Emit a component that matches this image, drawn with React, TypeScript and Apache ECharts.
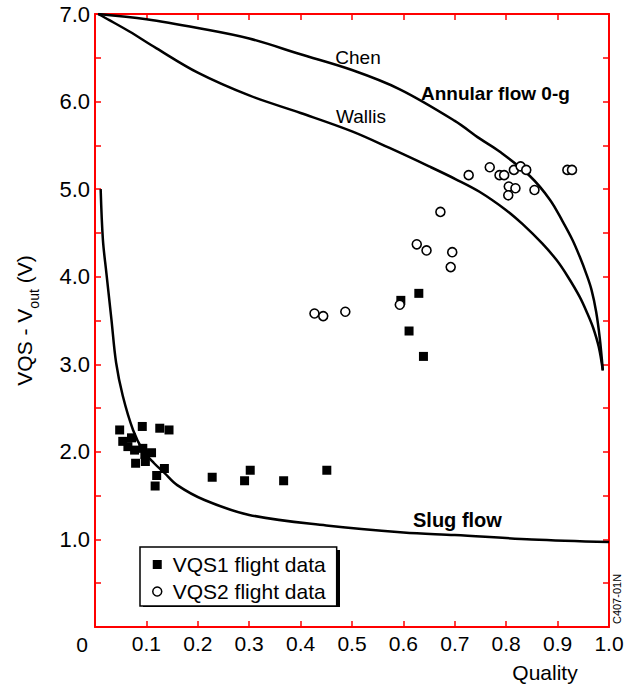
import React, { useEffect, useRef } from "react";
import * as echarts from "echarts";

// ---- Data ----
const xTickValues = [0, 0.1, 0.2, 0.3, 0.4, 0.5, 0.6, 0.7, 0.8, 0.9, 1.0];
const yTickLabels = ["1.0", "2.0", "3.0", "4.0", "5.0", "6.0", "7.0"];

const chenCurve: [number, number][] = [
  [0.006, 7.0], [0.1, 6.94], [0.2, 6.84], [0.3, 6.72], [0.4, 6.54], [0.5, 6.36],
  [0.593, 6.14], [0.7, 5.78], [0.748, 5.58], [0.787, 5.43], [0.846, 5.15],
  [0.885, 4.88], [0.91, 4.63], [0.929, 4.42], [0.943, 4.23], [0.956, 4.03],
  [0.966, 3.85], [0.975, 3.6], [0.982, 3.3], [0.988, 2.93],
];

const wallisCurve: [number, number][] = [
  [0.006, 7.0], [0.028, 6.93], [0.067, 6.8], [0.119, 6.61], [0.2, 6.33],
  [0.3, 6.07], [0.4, 5.87], [0.5, 5.66], [0.573, 5.47], [0.65, 5.26],
  [0.703, 5.11], [0.748, 4.97], [0.8, 4.76], [0.832, 4.6], [0.87, 4.38],
  [0.898, 4.19], [0.92, 4.0], [0.943, 3.77], [0.958, 3.58], [0.969, 3.42],
  [0.98, 3.2], [0.988, 2.93],
];

const slugCurve: [number, number][] = [
  [0.011, 5.0], [0.0154, 4.42], [0.022, 4.05], [0.032, 3.51], [0.041, 3.02],
  [0.054, 2.64], [0.074, 2.25], [0.093, 2.02], [0.115, 1.87], [0.135, 1.76],
  [0.16, 1.62], [0.213, 1.45], [0.3, 1.28], [0.45, 1.16], [0.6, 1.08],
  [0.7, 1.05], [0.85, 1.0], [1.0, 0.97],
];

const vqs1Data: [number, number][] = [
  [0.048, 2.25], [0.092, 2.29], [0.126, 2.27], [0.144, 2.25], [0.054, 2.12],
  [0.064, 2.06], [0.071, 2.16], [0.077, 2.02], [0.093, 2.04], [0.097, 1.97],
  [0.11, 1.99], [0.079, 1.87], [0.098, 1.89], [0.135, 1.81], [0.12, 1.73],
  [0.117, 1.61], [0.228, 1.71], [0.291, 1.67], [0.302, 1.79], [0.367, 1.67],
  [0.451, 1.79], [0.595, 3.73], [0.63, 3.81], [0.611, 3.38], [0.639, 3.09],
];

const vqs2Data: [number, number][] = [
  [0.427, 3.58], [0.444, 3.55], [0.487, 3.6], [0.593, 3.68], [0.626, 4.37],
  [0.645, 4.3], [0.695, 4.28], [0.692, 4.11], [0.672, 4.74], [0.727, 5.16],
  [0.768, 5.25], [0.787, 5.16], [0.796, 5.16], [0.815, 5.22], [0.828, 5.26],
  [0.839, 5.22], [0.805, 5.03], [0.818, 5.01], [0.804, 4.93], [0.855, 4.99],
  [0.919, 5.22], [0.928, 5.22],
];

const FONT = "'Liberation Sans', Arial, Helvetica, sans-serif";
const INK = "rgb(0,0,0)";
const FRAME = "red";

export default function App() {
  const ref = useRef<HTMLDivElement>(null);

  useEffect(() => {
    document.body.style.margin = "0";
    const chart = echarts.init(ref.current!, null, { renderer: "svg" });

    const mkLine = () => ({ show: true, onZero: false, lineStyle: { color: FRAME, width: 2 } });
    const mkTick = () => ({ show: true, inside: true, length: 6, lineStyle: { color: FRAME, width: 1.5 } });
    const curveStyle = { color: INK, width: 2.5 };

    const option: any = {
      animation: false,
      backgroundColor: "#fff",
      textStyle: { fontFamily: FONT },
      grid: { left: 95, right: 30, top: 14, bottom: 60 },
      xAxis: [
        {
          type: "value",
          min: 0,
          max: 1,
          interval: 0.1,
          position: "bottom",
          axisLine: mkLine(),
          axisTick: mkTick(),
          splitLine: { show: false },
          axisLabel: {
            color: INK,
            fontSize: 21,
            margin: 6,
            formatter: (v: number) => {
              const i = xTickValues.findIndex((t) => Math.abs(t - v) < 1e-6);
              return i <= 0 ? "" : xTickValues[i].toFixed(1);
            },
          },
        },
        {
          type: "value",
          min: 0,
          max: 1,
          interval: 0.1,
          position: "top",
          axisLine: mkLine(),
          axisTick: mkTick(),
          splitLine: { show: false },
          axisLabel: { show: false },
        },
      ],
      yAxis: [
        {
          type: "value",
          min: 0,
          max: 7,
          interval: 0.5,
          position: "left",
          axisLine: mkLine(),
          axisTick: mkTick(),
          splitLine: { show: false },
          axisLabel: {
            color: INK,
            fontSize: 22,
            margin: 5,
            formatter: (v: number) => {
              if (Math.abs(v - Math.round(v)) > 1e-6 || Math.round(v) === 0) return "";
              return yTickLabels[Math.round(v) - 1];
            },
          },
          name: "{n|VQS - V}{sub|out}{n| (V)}",
          nameLocation: "middle",
          nameRotate: 90,
          nameGap: 54,
          nameTextStyle: {
            color: INK,
            rich: {
              n: { fontSize: 21, color: INK, verticalAlign: "top", lineHeight: 27 },
              sub: { fontSize: 14, color: INK, verticalAlign: "bottom", lineHeight: 27 },
            },
          },
        },
        {
          type: "value",
          min: 0,
          max: 7,
          interval: 0.5,
          position: "right",
          axisLine: mkLine(),
          axisTick: mkTick(),
          splitLine: { show: false },
          axisLabel: { show: false },
        },
      ],
      legend: {
        show: true,
        orient: "vertical",
        left: 140,
        top: 547,
        data: [
          { name: "VQS1 flight data", icon: "rect", itemStyle: { color: INK, opacity: 1 } },
          {
            name: "VQS2 flight data",
            icon: "circle",
            itemStyle: { color: "#fff", borderColor: INK, borderWidth: 1.5, opacity: 1 },
          },
        ],
        backgroundColor: "#fff",
        borderColor: INK,
        borderWidth: 1.5,
        borderRadius: 0,
        padding: [7, 11, 4, 12],
        itemGap: 6,
        itemWidth: 9,
        itemHeight: 9,
        textStyle: { fontSize: 21, color: INK, lineHeight: 20, padding: [0, 0, 0, 6] },
      },
      graphic: [
        {
          type: "rect",
          z: 0,
          silent: true,
          shape: { x: 143, y: 550, width: 197, height: 57 },
          style: { fill: INK },
        },
        {
          type: "text",
          x: 82,
          y: 644,
          style: { text: "0", font: `21px ${FONT}`, fill: INK, align: "center", verticalAlign: "middle" },
        },
        {
          type: "text",
          x: 545,
          y: 672,
          style: { text: "Quality", font: `21px ${FONT}`, fill: INK, align: "center", verticalAlign: "middle" },
        },
        {
          type: "text",
          x: 358,
          y: 57,
          style: { text: "Chen", font: `19px ${FONT}`, fill: INK, align: "center", verticalAlign: "middle" },
        },
        {
          type: "text",
          x: 361,
          y: 116,
          style: { text: "Wallis", font: `19px ${FONT}`, fill: INK, align: "center", verticalAlign: "middle" },
        },
        {
          type: "text",
          x: 421,
          y: 93,
          style: { text: "Annular flow 0-g", font: `bold 19px ${FONT}`, fill: INK, align: "left", verticalAlign: "middle" },
        },
        {
          type: "text",
          x: 413,
          y: 520,
          style: { text: "Slug flow", font: `bold 20px ${FONT}`, fill: INK, align: "left", verticalAlign: "middle" },
        },
        {
          type: "text",
          x: 617,
          y: 599,
          rotation: Math.PI / 2,
          style: { text: "C407-01N", font: `11px ${FONT}`, fill: INK, align: "center", verticalAlign: "middle" },
        },
      ],
      series: [
        { name: "Chen", type: "line", data: chenCurve, symbol: "none", smooth: 0.35, lineStyle: curveStyle, z: 2 },
        { name: "Wallis", type: "line", data: wallisCurve, symbol: "none", smooth: 0.35, lineStyle: curveStyle, z: 2 },
        { name: "Slug flow", type: "line", data: slugCurve, symbol: "none", smooth: 0.35, lineStyle: curveStyle, z: 2 },
        {
          name: "VQS1 flight data",
          type: "scatter",
          data: vqs1Data,
          symbol: "rect",
          symbolSize: 9,
          itemStyle: { color: INK, opacity: 1 },
          z: 3,
        },
        {
          name: "VQS2 flight data",
          type: "scatter",
          data: vqs2Data,
          symbol: "circle",
          symbolSize: 9,
          itemStyle: { color: "#fff", borderColor: INK, borderWidth: 1.6, opacity: 1 },
          z: 4,
        },
      ],
    };

    chart.setOption(option);
    return () => chart.dispose();
  }, []);

  return <div ref={ref} style={{ width: 639, height: 687 }} />;
}
